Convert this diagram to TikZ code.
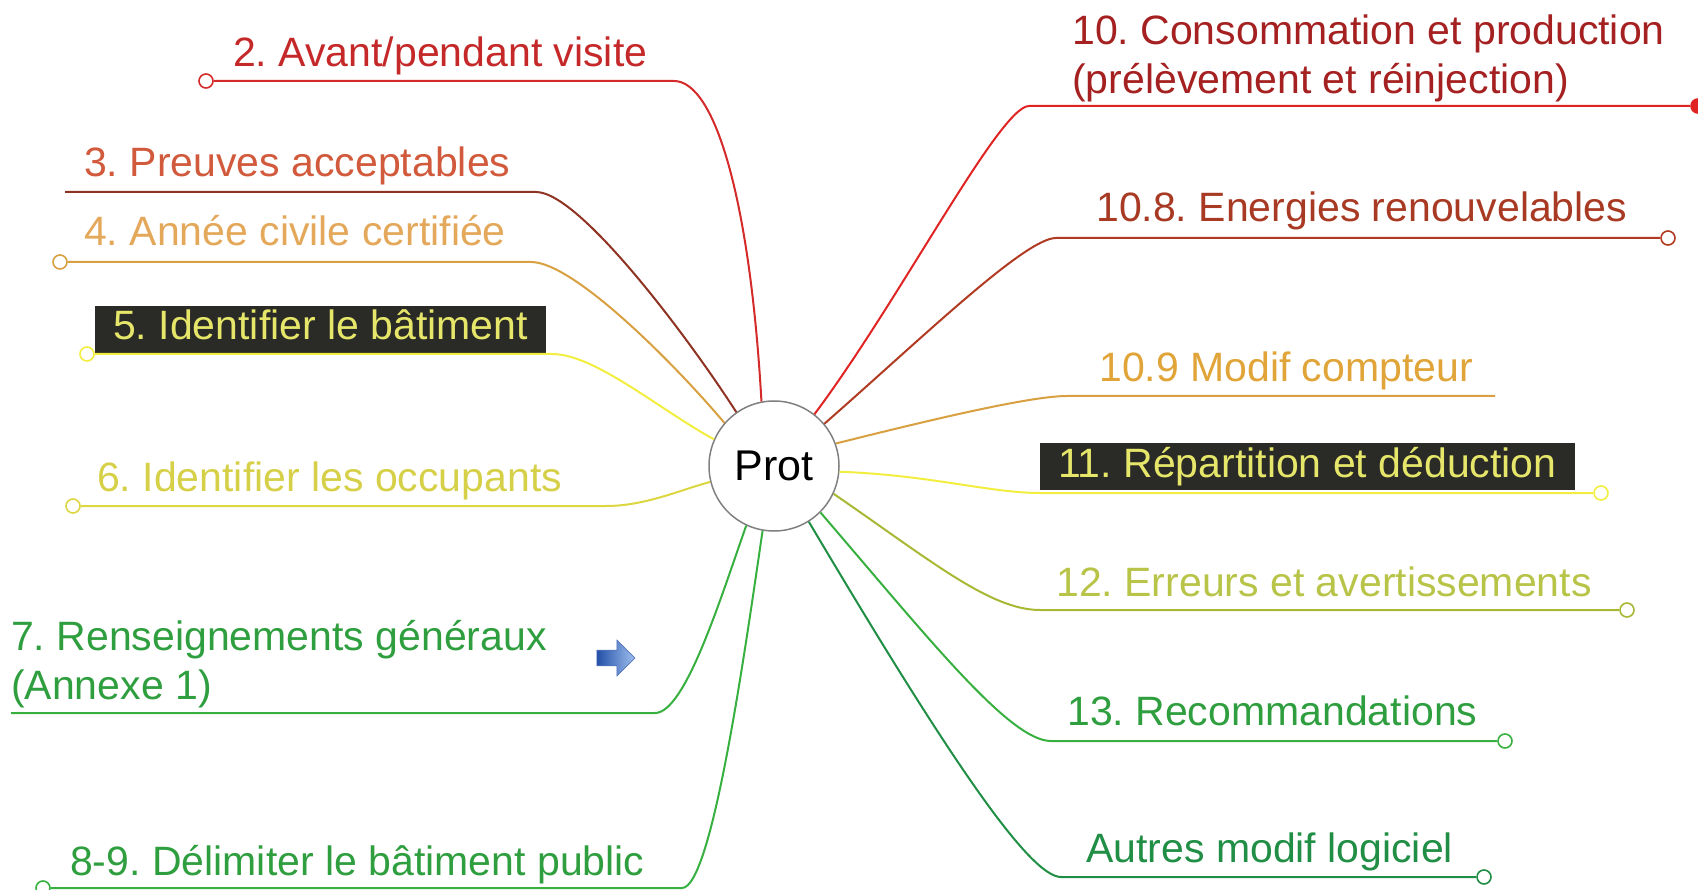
\documentclass[tikz,border=0pt]{standalone}
\usepackage{fontspec}
\setmainfont{Liberation Sans}
\usetikzlibrary{shapes.arrows}
\frenchspacing

\definecolor{txtA}{HTML}{C42828}
\definecolor{lnA}{HTML}{D42A2A}
\definecolor{txtB}{HTML}{D25A3C}
\definecolor{lnB}{HTML}{8E3222}
\definecolor{txtC}{HTML}{E4A85A}
\definecolor{lnC}{HTML}{D8A040}
\definecolor{lnY}{HTML}{F2EE40}
\definecolor{txtY}{HTML}{E6E66A}
\definecolor{txtD}{HTML}{D6D048}
\definecolor{lnD}{HTML}{DCD640}
\definecolor{txtG}{HTML}{2E9E3E}
\definecolor{lnG}{HTML}{38B040}
\definecolor{txtR}{HTML}{A52020}
\definecolor{lnR}{HTML}{E02424}
\definecolor{txtE}{HTML}{A83A24}
\definecolor{lnE}{HTML}{B03A22}
\definecolor{txtF}{HTML}{E0A438}
\definecolor{txtH}{HTML}{B8C448}
\definecolor{lnH}{HTML}{A8B834}
\definecolor{txtK}{HTML}{208E44}
\definecolor{boxbg}{HTML}{2A2A26}
\definecolor{goDark}{HTML}{2450A8}
\definecolor{goLight}{HTML}{9EC0EE}

\tikzset{
  lbl/.style={anchor=base west, inner sep=0pt, font=\fontsize{41}{49}\selectfont},
  blk/.style={lbl, fill=boxbg, text=txtY, inner xsep=18pt, inner ysep=4pt,
    text height=30pt, text depth=9pt},
  br/.style={line width=2pt},
  knob/.style={circle, draw, fill=white, line width=1.6pt, minimum size=14pt, inner sep=0pt}
}

\begin{document}
\begin{tikzpicture}[x=1pt,y=-1pt]
  \useasboundingbox (0,0) rectangle (1698,890);

  \node (prot) at (774,466) [circle, draw=gray, fill=white, line width=1.5pt,
    minimum size=130pt, font=\fontsize{43}{50}\selectfont]{Prot};

  % left side
  \node (t2) at (233,67) [lbl, text=txtA]{2. Avant/pendant visite};
  \node (t3) at (84,177) [lbl, text=txtB]{3. Preuves acceptables};
  \node (t4) at (84,246) [lbl, text=txtC]{4. Année civile certifiée};
  \node (t5) at (95,340) [blk]{5. Identifier le bâtiment};
  \node (t6) at (97,491) [lbl, text=txtD]{6. Identifier les occupants};
  \node (t7) at (11,699) [lbl, text=txtG, align=left]{7. Renseignements généraux\\(Annexe 1)};
  \node (go7) at (612,658) [single arrow, minimum height=38pt, minimum width=36pt,
    inner sep=5pt, single arrow head extend=7pt, left color=goDark,
    right color=goLight, draw=goDark!80!white, line width=0.6pt]{};
  \node (t8) at (70,875) [lbl, text=txtG]{8-9. Délimiter le bâtiment public};

  % right side
  \node (t10) at (1072,94) [lbl, text=txtR, align=left]{10. Consommation et production\\(prélèvement et réinjection)};
  \node (t108) at (1096,222) [lbl, text=txtE]{10.8. Energies renouvelables};
  \node (t109) at (1099,382) [lbl, text=txtF]{10.9 Modif compteur};
  \node (t11) at (1040,477) [blk]{11. Répartition et déduction};
  \node (t12) at (1056,596) [lbl, text=txtH]{12. Erreurs et avertissements};
  \node (t13) at (1067,725) [lbl, text=txtG]{13. Recommandations};
  \node (t14) at (1086,862) [lbl, text=txtK]{Autres modif logiciel};

  % knobs and free ends
  \node (k2) at (206,81) [knob, draw=lnA]{};
  \coordinate (e3) at (65,192);
  \node (k4) at (60,262) [knob, draw=lnC]{};
  \node (k5) at (87,354) [knob, draw=lnY]{};
  \node (k6) at (73,506) [knob, draw=lnD]{};
  \coordinate (e7) at (11,713);
  \node (k8) at (43,888) [knob, draw=lnG]{};
  \node (k10) at (1698,106) [knob, draw=lnR, fill=lnR]{};
  \node (k108) at (1668,238) [knob, draw=lnE]{};
  \coordinate (e109) at (1495,396);
  \node (k11) at (1601,493) [knob, draw=lnY]{};
  \node (k12) at (1627,610) [knob, draw=lnH]{};
  \node (k13) at (1505,741) [knob, draw=lnG]{};
  \node (k14) at (1484,877) [knob, draw=txtK]{};

  \coordinate (b2) at (674,81);
  \coordinate (b3) at (536,192);
  \coordinate (b4) at (531,262);
  \coordinate (b5) at (552,354);
  \coordinate (b6) at (606,506);
  \coordinate (b7) at (655,713);
  \coordinate (b8) at (682,888);
  \coordinate (b10) at (1029,106);
  \coordinate (b108) at (1056,238);
  \coordinate (b109) at (1067,396);
  \coordinate (b11) at (1040,493);
  \coordinate (b12) at (1040,610);
  \coordinate (b13) at (1051,741);
  \coordinate (b14) at (1061,877);

  \draw[br, lnA] (prot.101) .. controls (750,200) and (715,81) .. (b2) -- (k2);
  \draw[br, lnB] (prot.125) .. controls (690,340) and (580,192) .. (b3) -- (e3);
  \draw[br, lnC] (prot.139) .. controls (680,370) and (575,262) .. (b4) -- (k4);
  \draw[br, lnY] (prot.156) .. controls (660,410) and (595,354) .. (b5) -- (k5);
  \draw[br, lnD] (prot.194) .. controls (680,490) and (645,506) .. (b6) -- (k6);
  \draw[br, lnG] (prot.245) .. controls (720,600) and (685,713) .. (b7) -- (e7);
  \draw[br, lnG] (prot.260) .. controls (745,650) and (712,888) .. (b8) -- (k8);

  \draw[br, lnR] (prot.52) .. controls (900,300) and (1000,106) .. (b10) -- (k10);
  \draw[br, lnE] (prot.40) .. controls (920,340) and (1025,238) .. (b108) -- (k108);
  \draw[br, lnC] (prot.20) .. controls (930,420) and (1030,396) .. (b109) -- (e109);
  \draw[br, lnY] (prot.-5) .. controls (930,475) and (990,493) .. (b11) -- (k11);
  \draw[br, lnH] (prot.-25) .. controls (930,560) and (990,610) .. (b12) -- (k12);
  \draw[br, lnG] (prot.-45) .. controls (930,640) and (1010,741) .. (b13) -- (k13);
  \draw[br, txtK] (prot.-58) .. controls (950,760) and (1030,877) .. (b14) -- (k14);

\end{tikzpicture}
\end{document}
